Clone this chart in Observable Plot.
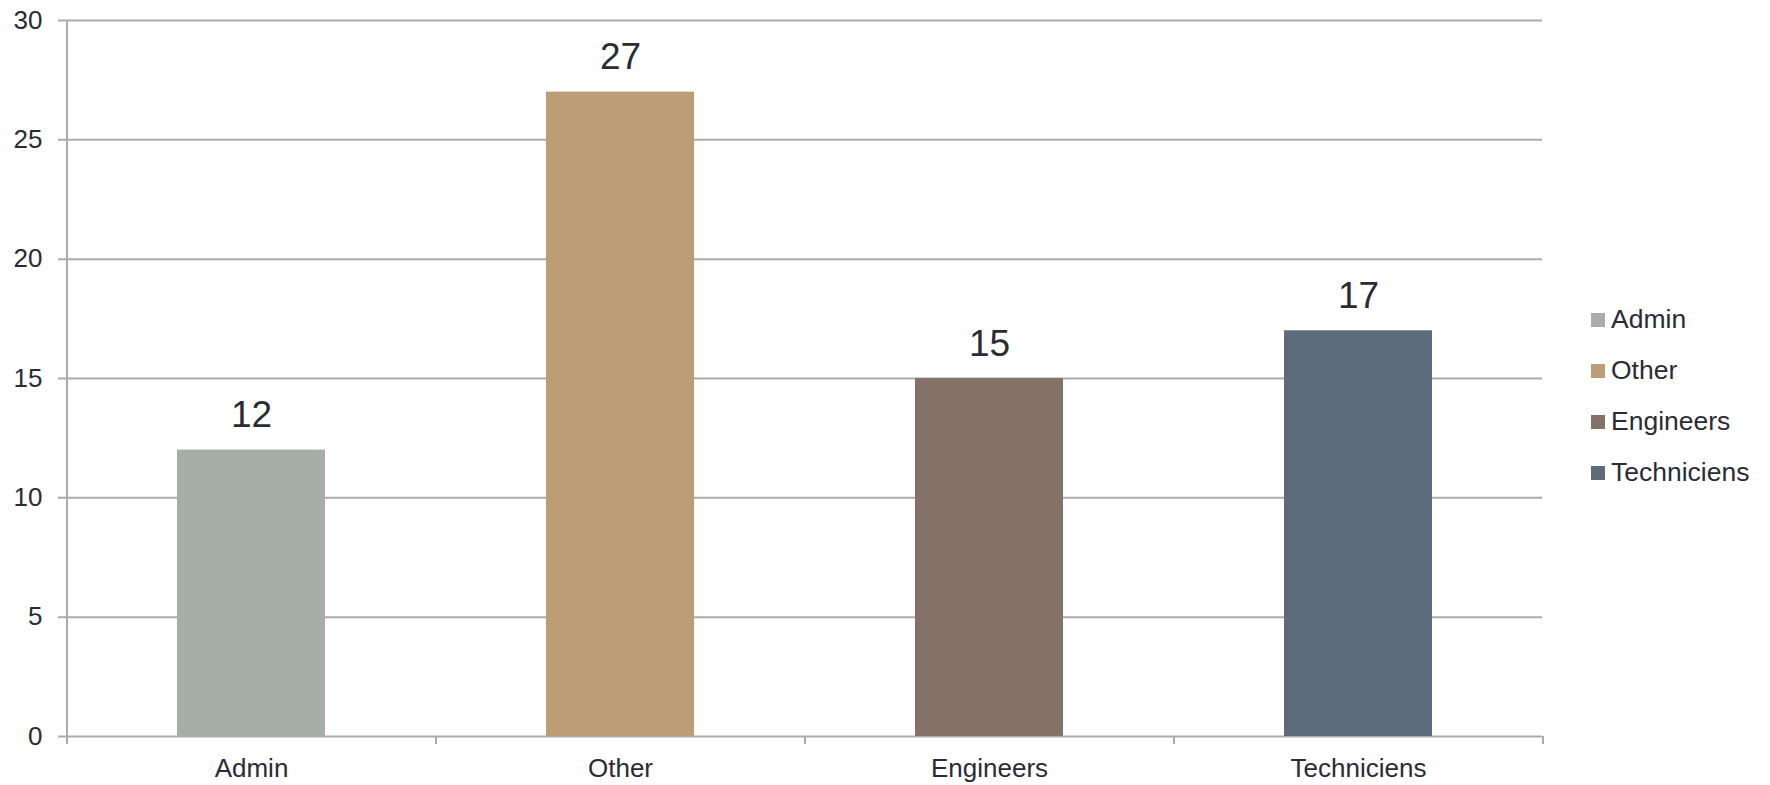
<!DOCTYPE html>
<html>
<head>
<meta charset="utf-8">
<script src="https://cdn.jsdelivr.net/npm/d3@7"></script>
<script src="https://cdn.jsdelivr.net/npm/@observablehq/plot@0.6"></script>
<style>
  html, body { margin: 0; padding: 0; background: #fff; }
  #wrap { position: relative; width: 1770px; height: 785px; font-family: "Liberation Sans", Arial, sans-serif; }
  #legend { position: absolute; left: 1591px; top: 294px; color: #2b2b36; font-size: 26.5px; }
  #legend .row { display: flex; align-items: center; height: 51px; }
  #legend .sw { width: 14px; height: 14px; margin-right: 6px; }
</style>
</head>
<body>
<div id="wrap"><div id="chart"></div><div id="legend"></div></div>
<script>
const categories = ["Admin", "Other", "Engineers", "Techniciens"];
const values = [12, 27, 15, 17];
const colors = ["#a5aea8", "#bc9d78", "#847268", "#5d6b7b"];
const yTicks = [0, 5, 10, 15, 20, 25, 30];

const data = categories.map((c, i) => ({category: c, value: values[i]}));

const W = 1770, H = 785;
const mL = 66, mR = 228, mT = 20, mB = 49;
const step = (W - mL - mR) / categories.length;
const textColor = "#2b2b36";
const gridColor = "#ababab";

const chart = Plot.plot({
  width: W,
  height: H,
  marginLeft: mL,
  marginRight: mR,
  marginTop: mT,
  marginBottom: mB,
  style: {fontFamily: "'Liberation Sans', Arial, sans-serif", color: textColor, background: "#fff"},
  x: {domain: categories, paddingInner: 0.6, paddingOuter: 0.3, label: null},
  y: {domain: [0, 30], label: null},
  color: {domain: categories, range: colors},
  marks: [
    Plot.ruleY(yTicks, {stroke: gridColor, strokeWidth: 2, insetLeft: -8}),
    Plot.barY(data, {x: "category", y: "value", fill: "category"}),
    Plot.ruleX([categories[0]], {dx: -step / 2, stroke: gridColor, strokeWidth: 2, insetBottom: -8}),
    Plot.ruleX(categories, {dx: step / 2, stroke: gridColor, strokeWidth: 2, insetTop: H - mT - mB, insetBottom: -8}),
    Plot.text(data, {x: "category", y: "value", text: d => String(d.value), dy: -23, lineAnchor: "bottom", fontSize: 37, fill: textColor}),
    Plot.axisY(yTicks, {tickSize: 0, tickPadding: 24, fontSize: 26, fill: textColor, label: null}),
    Plot.axisX({tickSize: 0, tickPadding: 22, fontSize: 26, fill: textColor, label: null})
  ]
});
document.getElementById("chart").appendChild(chart);

const legend = document.getElementById("legend");
categories.forEach((c, i) => {
  const row = document.createElement("div");
  row.className = "row";
  const sw = document.createElement("div");
  sw.className = "sw";
  sw.style.background = colors[i];
  const t = document.createElement("span");
  t.textContent = c;
  row.appendChild(sw);
  row.appendChild(t);
  legend.appendChild(row);
});
</script>
</body>
</html>
